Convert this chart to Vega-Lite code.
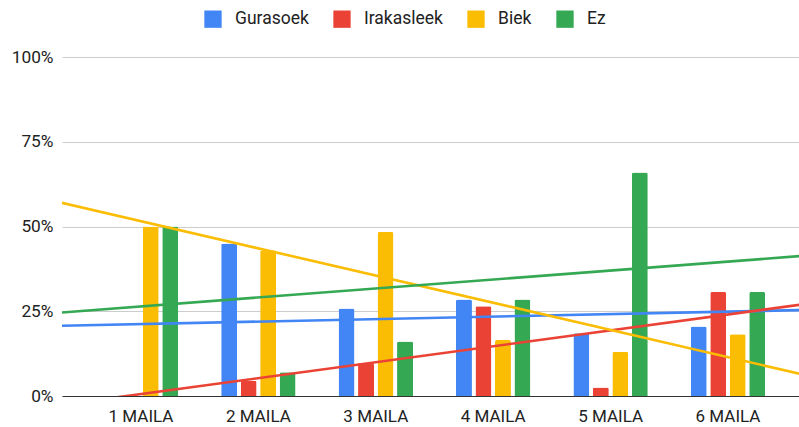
{
  "$schema": "https://vega.github.io/schema/vega-lite/v6.json",
  "width": 737,
  "height": 339,
  "autosize": {"type": "none"},
  "padding": {"left": 62, "top": 57, "right": 0, "bottom": 31},
  "background": "white",
  "config": {"view": {"stroke": null}, "font": "Roboto"},
  "data": {
    "values": [
      {"maila": "1 MAILA", "n": 1, "series": "Gurasoek", "v": 0},
      {"maila": "1 MAILA", "n": 1, "series": "Irakasleek", "v": 0},
      {"maila": "1 MAILA", "n": 1, "series": "Biek", "v": 50},
      {"maila": "1 MAILA", "n": 1, "series": "Ez", "v": 50},
      {"maila": "2 MAILA", "n": 2, "series": "Gurasoek", "v": 45},
      {"maila": "2 MAILA", "n": 2, "series": "Irakasleek", "v": 4.5},
      {"maila": "2 MAILA", "n": 2, "series": "Biek", "v": 43},
      {"maila": "2 MAILA", "n": 2, "series": "Ez", "v": 7},
      {"maila": "3 MAILA", "n": 3, "series": "Gurasoek", "v": 25.8},
      {"maila": "3 MAILA", "n": 3, "series": "Irakasleek", "v": 9.7},
      {"maila": "3 MAILA", "n": 3, "series": "Biek", "v": 48.4},
      {"maila": "3 MAILA", "n": 3, "series": "Ez", "v": 16.1},
      {"maila": "4 MAILA", "n": 4, "series": "Gurasoek", "v": 28.5},
      {"maila": "4 MAILA", "n": 4, "series": "Irakasleek", "v": 26.5},
      {"maila": "4 MAILA", "n": 4, "series": "Biek", "v": 16.5},
      {"maila": "4 MAILA", "n": 4, "series": "Ez", "v": 28.5},
      {"maila": "5 MAILA", "n": 5, "series": "Gurasoek", "v": 18.5},
      {"maila": "5 MAILA", "n": 5, "series": "Irakasleek", "v": 2.5},
      {"maila": "5 MAILA", "n": 5, "series": "Biek", "v": 13},
      {"maila": "5 MAILA", "n": 5, "series": "Ez", "v": 65.9},
      {"maila": "6 MAILA", "n": 6, "series": "Gurasoek", "v": 20.5},
      {"maila": "6 MAILA", "n": 6, "series": "Irakasleek", "v": 30.7},
      {"maila": "6 MAILA", "n": 6, "series": "Biek", "v": 18.2},
      {"maila": "6 MAILA", "n": 6, "series": "Ez", "v": 30.7}
    ]
  },
  "layer": [
    {
      "mark": {"type": "bar", "cornerRadiusTopLeft": 2, "cornerRadiusTopRight": 2},
      "encoding": {
        "x": {
          "field": "maila", "type": "nominal", "sort": null,
          "scale": {"range": [0, 745], "paddingInner": 0.336, "paddingOuter": 0.341},
          "axis": {"title": null, "domain": false, "ticks": false, "labelAngle": 0, "labelFontSize": 17, "labelColor": "#222222", "labelPadding": 12, "labelFont": "Roboto"}
        },
        "xOffset": {
          "field": "series", "type": "nominal",
          "sort": ["Gurasoek", "Irakasleek", "Biek", "Ez"],
          "scale": {"domain": ["Gurasoek", "Irakasleek", "Biek", "Ez"], "paddingInner": 0.18, "paddingOuter": 0.09}
        },
        "y": {
          "field": "v", "type": "quantitative",
          "scale": {"domain": [0, 100], "nice": false},
          "axis": {
            "title": null, "values": [0, 25, 50, 75, 100], "labelExpr": "datum.value + '%'",
            "domain": false, "ticks": false, "labelPadding": 9, "labelFontSize": 17.3, "labelColor": "#222222", "labelFont": "Roboto",
            "gridColor": {"condition": {"test": "datum.value === 0", "value": "#333333"}, "value": "#cccccc"},
            "gridWidth": 1
          }
        },
        "color": {
          "field": "series", "type": "nominal",
          "scale": {"domain": ["Gurasoek", "Irakasleek", "Biek", "Ez"], "range": ["#4285F4", "#EA4335", "#FBBC04", "#34A853"]},
          "legend": {
            "title": null, "orient": "none", "legendX": 142, "legendY": -47, "direction": "horizontal",
            "symbolType": "square", "symbolSize": 300, "symbolStrokeWidth": 0, "symbolOpacity": 1,
            "labelFontSize": 17.5, "labelColor": "#222222", "labelFont": "Roboto", "labelOffset": 13, "columnPadding": 24, "padding": 0
          }
        }
      }
    },
    {
      "transform": [{"regression": "v", "on": "n", "groupby": ["series"], "extent": [0, 7]}],
      "mark": {"type": "line", "clip": true, "strokeWidth": 2.6},
      "encoding": {
        "x": {"field": "n", "type": "quantitative", "scale": {"domain": [0.327, 6.605], "nice": false, "zero": false}, "axis": null},
        "y": {"field": "v", "type": "quantitative"},
        "color": {"field": "series", "type": "nominal"}
      }
    }
  ],
  "resolve": {"scale": {"x": "independent"}}
}
